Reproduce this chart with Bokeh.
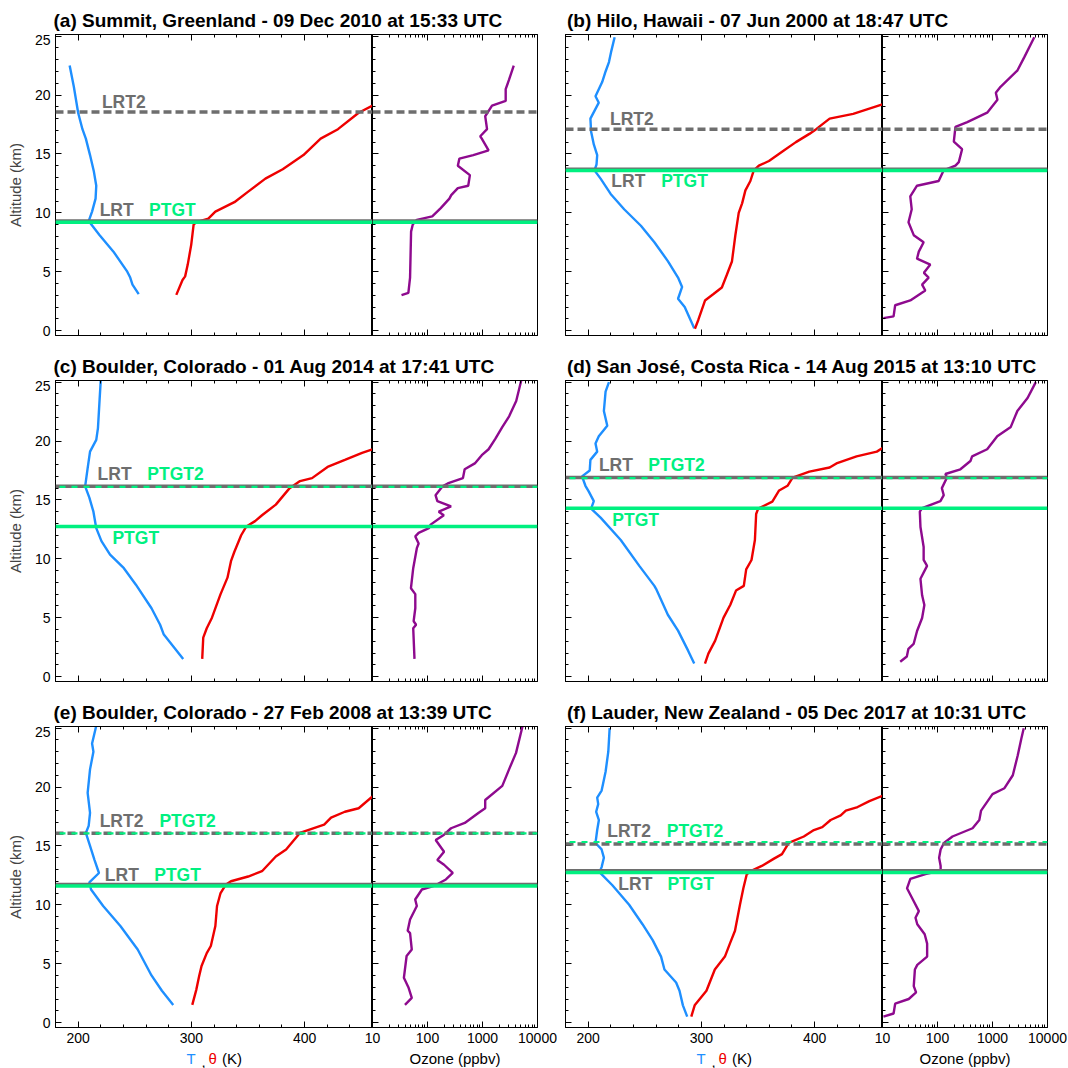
from bokeh.embed import file_html
from bokeh.layouts import column, row
from bokeh.models import FixedTicker, Label, LinearAxis, LogAxis, PrintfTickFormatter, Range1d, Span
from bokeh.plotting import figure
from bokeh.resources import INLINE

FONT = "Liberation Sans"
BLUE = "#1E8FFF"
RED = "#EE0000"
PURPLE = "#8E0A8E"
GRAY = "#6E6E6E"
GREEN = "#00F080"

TITLES = [
    "(a) Summit, Greenland - 09 Dec 2010 at 15:33 UTC",
    "(b) Hilo, Hawaii - 07 Jun 2000 at 18:47 UTC",
    "(c) Boulder, Colorado - 01 Aug 2014 at 17:41 UTC",
    "(d) San José, Costa Rica - 14 Aug 2015 at 13:10 UTC",
    "(e) Boulder, Colorado - 27 Feb 2008 at 13:39 UTC",
    "(f) Lauder, New Zealand - 05 Dec 2017 at 10:31 UTC",
]

# tropopause heights (km), None = not present
LRT = [9.3, 13.7, 16.15, 16.9, 11.72, 12.9]
LRT2 = [18.55, 17.1, None, None, 16.07, 15.16]
PTGT = [9.2, 13.6, 12.75, 14.3, 11.6, 12.74]
PTGT2 = [None, None, 16.1, 16.85, 16.07, 15.33]

# (a) Summit
t_alt_a = [3.1, 3.9, 4.5, 5.0, 6.7, 8.1, 9.3, 10.1, 11.2, 12.3, 13.5, 14.9, 16.3, 17.1, 18.5, 20.7, 22.5]
t_a = [253.5, 248, 246, 243.4, 231.2, 219, 209.3, 212.3, 215.4, 216, 213.9, 210.5, 206.8, 203.8, 200, 196.2, 192.5]
th_alt_a = [3.03, 4.3, 4.6, 5.6, 7.3, 9.0, 9.2, 9.5, 10.1, 10.9, 11.8, 12.9, 13.7, 14.9, 16.3, 17.1, 18.5, 19.1]
th_a = [286.7, 292.2, 294.5, 296.8, 299.9, 302, 304.4, 315, 321.2, 338, 350.2, 365.4, 380.7, 399, 414.2, 429.5, 447.8, 460]
o3_alt_a = [3.0, 3.2, 4.5, 8.4, 9.0, 9.4, 9.7, 10.4, 11.2, 11.5, 12.1, 12.3, 13.2, 14.0, 14.6, 14.9, 15.3,
            16.3, 16.5, 17.1, 18.2, 19.1, 19.5, 20.5, 21.3, 22.5]
o3_a = [33.7, 44.9, 48.2, 50.3, 54, 64, 122, 174, 250, 270, 356, 550, 590, 356, 380, 680, 1290,
        970, 910, 1210, 1120, 1490, 2640, 2640, 3040, 3700]

# (b) Hilo
t_alt_b = [0.2, 2.0, 2.7, 3.7, 4.5, 5.9, 7.5, 8.9, 10.3, 11.6, 12.9, 13.6, 14.1, 14.9, 15.8, 16.9, 18.0,
           19.35, 19.9, 21.1, 22.0, 22.8, 23.75, 24.9]
t_b = [293.7, 285.3, 279.4, 283, 279.4, 270.4, 258.5, 246.6, 231.8, 219.9, 211, 205.6, 207.4, 208, 205, 202.6, 202,
       209.4, 206.5, 212.4, 215.4, 218.4, 220.5, 223.4]
th_alt_b = [0.15, 0.9, 2.55, 3.1, 3.66, 4.76, 5.86, 6.96, 8.07, 9.99, 10.8, 11.9, 12.7, 13.6, 14.0, 14.4, 15.2,
            16.0, 16.7, 17.1, 18.0, 18.4, 19.2]
th_b = [294.3, 297.3, 303.2, 310.7, 318.1, 322.6, 327, 328.5, 330, 333, 336, 338.9, 343.3, 346.3, 350.8, 359.7,
        371.6, 383.5, 395.4, 401.4, 413.3, 434.1, 460]
o3_alt_b = [1.05, 1.2, 2.15, 2.56, 3.4, 3.9, 4.5, 4.9, 5.6, 6.1, 6.7, 7.5, 8.1, 9.2, 10.3, 11.4, 12.3, 12.7, 13.6,
            14.0, 14.3, 15.4, 16.05, 17.3, 17.7, 18.5, 19.6, 20.2, 20.7, 22.1, 23.2, 24.9]
o3_b = [10.4, 15.9, 17, 32, 60, 52.5, 69, 56.6, 74, 42.4, 45.7, 56, 37, 29.7, 34, 32, 42.4, 105, 129,
        212, 244, 280, 198, 212, 348, 800, 1230, 1150, 1400, 2850, 3770, 5750]

# (c) Boulder 2014
t_alt_c = [1.5, 3.6, 4.4, 5.8, 7.8, 9.2, 10.35, 11.5, 12.6, 14.0, 15.2, 16.15, 17.7, 19.1, 20.1, 21.1, 23.6, 25.2]
t_c = [292.8, 275.5, 272.4, 264.8, 251, 240.4, 228.2, 220.6, 216, 213.5, 209.9, 206.2, 208.4, 210.5, 216, 217.5,
       219, 220]
th_alt_c = [1.5, 3.3, 4.1, 5.0, 7.0, 8.4, 9.8, 10.6, 12.0, 12.75, 13.2, 13.7, 14.6, 16.0, 16.6, 16.85, 17.8, 18.4,
            19.0, 19.3]
th_c = [309.6, 310.5, 313.6, 318.2, 325.8, 331.9, 335, 338, 344, 348.6, 356.3, 362.4, 374.6, 386.8, 396, 406.6,
        420.3, 435.6, 450.8, 460]
o3_alt_c = [1.5, 4.1, 4.4, 4.7, 5.8, 7.0, 7.5, 9.2, 10.9, 11.3, 11.9, 12.2, 12.6, 12.9, 13.7, 14.0, 14.45, 14.9,
            15.4, 16.15, 16.4, 16.85, 17.6, 18.1, 18.8, 19.3, 20.2, 21.2, 22.1, 23.4, 25.2]
o3_c = [58, 55, 62, 56, 60, 60, 50, 55, 64, 69, 60, 69, 106, 114, 198, 160, 268, 151,
        140, 188, 233, 441, 474, 725, 970, 1290, 1720, 2300, 3050, 4100, 5100]

# (d) San Jose
t_alt_d = [1.1, 2.2, 3.9, 5.25, 7.45, 7.7, 9.4, 11.6, 13.5, 14.26, 14.9, 15.7, 16.2, 17.0, 17.5, 18.4, 19.1, 19.8,
           20.4, 21.3, 22.55, 24.2, 25.0]
t_d = [293.7, 288.3, 279.4, 270.4, 260, 258.5, 245.2, 228.8, 211, 202.6, 205, 200.6, 197.6, 194.6, 201.4, 202, 208,
       206.5, 209.4, 216.9, 213.9, 215.4, 218.4]
th_alt_d = [1.1, 1.95, 3.05, 5.0, 6.1, 7.3, 7.7, 9.1, 9.9, 11.6, 13.8, 14.26, 14.86, 15.8, 16.2, 16.9, 17.4, 17.75,
            18.1, 18.7, 19.1, 19.4]
th_d = [303.2, 306.2, 312.2, 319.6, 325.6, 330.6, 337.5, 339.6, 344.3, 347.3, 348.4, 350.2, 362.7, 368.7, 376.1,
        380.6, 395.4, 413.3, 419.3, 437.1, 455, 460]
o3_alt_d = [1.26, 1.7, 2.36, 2.77, 3.87, 4.97, 6.07, 6.9, 8.3, 9.4, 9.9, 11.0, 12.7, 14.0, 14.3, 14.9, 15.4, 16.0,
            16.9, 17.2, 17.6, 18.3, 18.7, 19.3, 20.4, 21.2, 22.55, 23.65, 25.0]
o3_d = [21, 27.7, 29.6, 36.8, 42.5, 52.5, 57.7, 52.5, 49, 64.6, 56, 56, 49, 47.7, 52.5, 113, 130, 120,
        149, 139, 261, 397, 426, 800, 1220, 2150, 2830, 4340, 6130]

# (e) Boulder 2008
t_alt_e = [1.5, 2.7, 4.0, 6.2, 8.2, 9.9, 11.3, 11.9, 12.7, 13.8, 15.0, 16.1, 16.7, 17.8, 19.5, 21.5, 23.0, 23.7, 25.2]
t_e = [284, 274, 264.8, 252.6, 237.3, 222.1, 211.4, 209.9, 218.4, 214.5, 210.5, 206.8, 209.3, 210.5, 208.4, 210.5,
       213.5, 212.3, 216]
th_alt_e = [1.5, 2.8, 3.95, 4.8, 5.9, 6.5, 8.2, 9.9, 11.0, 11.7, 12.0, 12.4, 12.85, 14.1, 14.7, 16.1, 16.8, 17.4,
            17.9, 18.2, 19.2]
th_e = [300.8, 304.4, 306.9, 309, 313.6, 317.2, 321.2, 322.7, 325.8, 330.3, 335, 350.2, 362.4, 374.6, 383.7, 395.9,
        417.3, 423.4, 435.6, 447.8, 460]
o3_alt_e = [1.5, 2.1, 3.0, 3.8, 5.65, 6.2, 7.6, 7.8, 8.75, 9.9, 10.45, 11.3, 11.6, 12.15, 12.7, 13.4, 13.8, 14.5,
            15.5, 15.95, 16.5, 16.95, 17.8, 18.2, 18.9, 20.1, 21.5, 22.9, 25.2]
o3_e = [38.9, 51.8, 44.9, 37.2, 41.7, 51.8, 48.2, 43.6, 48.2, 64, 59.7, 79, 131, 216, 288, 200, 151, 200,
        141, 200, 268, 476, 841, 1120, 1120, 2290, 3040, 4070, 5370]

# (f) Lauder
t_alt_f = [0.5, 1.46, 2.7, 3.4, 4.5, 5.6, 7.0, 8.35, 10.0, 11.66, 12.77, 13.2, 14.0, 14.7, 15.25, 16.35, 17.2, 17.9,
           18.55, 19.1, 19.7, 20.2, 21.3, 23.0, 25.0]
t_f = [287.5, 283.7, 280.7, 277.7, 267.4, 264.4, 257, 248, 236.2, 221.4, 210, 211.9, 213.9, 211.9, 206.5, 208, 209.5,
       207.1, 208.9, 208, 211.9, 213, 215.4, 217.8, 219]
th_alt_f = [0.5, 1.46, 2.7, 4.5, 5.6, 6.7, 7.8, 10.0, 11.4, 12.6, 12.9, 13.3, 13.9, 14.3, 15.25, 15.8, 16.35, 16.6,
            17.2, 17.6, 18.0, 18.3, 18.8, 19.25]
th_f = [291.1, 294.1, 304.5, 311.9, 320.8, 325.2, 329.7, 334.1, 337.1, 340.1, 344.5, 353.4, 363.8, 371.2, 377.2,
        390.5, 399.4, 406.8, 414.2, 423.1, 427.6, 438, 448.4, 460]
o3_alt_f = [0.5, 0.77, 1.6, 2.0, 2.56, 3.1, 4.5, 4.9, 5.6, 6.7, 7.5, 8.35, 8.9, 9.46, 10.3, 11.4, 12.2, 12.6, 12.9,
            13.3, 14.0, 14.7, 15.25, 15.8, 16.5, 17.2, 18.0, 19.4, 19.9, 21.0, 22.7, 24.1, 25.0]
o3_f = [10.4, 15.9, 17, 30, 40.8, 37, 38.8, 42.9, 64.8, 64.8, 58.5, 42.9, 39.8, 45.8, 37, 27.9, 32.1, 60.4, 114,
        114, 107, 114, 131, 187, 434, 576, 620, 1000, 1650, 2340, 2880, 3340, 3700]

T_PROFILES = [(t_a, t_alt_a), (t_b, t_alt_b), (t_c, t_alt_c), (t_d, t_alt_d), (t_e, t_alt_e), (t_f, t_alt_f)]
TH_PROFILES = [(th_a, th_alt_a), (th_b, th_alt_b), (th_c, th_alt_c), (th_d, th_alt_d), (th_e, th_alt_e), (th_f, th_alt_f)]
O3_PROFILES = [(o3_a, o3_alt_a), (o3_b, o3_alt_b), (o3_c, o3_alt_c), (o3_d, o3_alt_d), (o3_e, o3_alt_e), (o3_f, o3_alt_f)]

# annotation text placement: (text, colour, K, km of text baseline)
LABELS = [
    [("LRT2", GRAY, 221, 18.9), ("LRT", GRAY, 219, 9.67), ("PTGT", GREEN, 262.6, 9.67)],
    [("LRT2", GRAY, 219.3, 17.4), ("LRT", GRAY, 220.5, 12.2), ("PTGT", GREEN, 264.5, 12.2)],
    [("LRT", GRAY, 217.2, 16.65), ("PTGT2", GREEN, 261.1, 16.65), ("PTGT", GREEN, 230.3, 11.25)],
    [("LRT", GRAY, 209.5, 17.4), ("PTGT2", GREEN, 253.2, 17.4), ("PTGT", GREEN, 221.4, 12.8)],
    [("LRT2", GRAY, 219, 16.6), ("PTGT2", GREEN, 271.8, 16.6), ("LRT", GRAY, 223.6, 12.0), ("PTGT", GREEN, 267.2, 12.0)],
    [("LRT2", GRAY, 216.9, 15.7), ("PTGT2", GREEN, 269.4, 15.7), ("LRT", GRAY, 226.7, 11.2), ("PTGT", GREEN, 270, 11.2)],
]
# pieces of the coloured temperature axis title: (text, colour, px from frame left)
T_TITLE = [("T", BLUE, 131), (",", "black", 146), ("θ", RED, 153), ("(K)", "black", 166.5)]

Y_RANGE = (-0.42, 25.14)
FRAME_H = 301
T_W, O_W = 317, 165
KM_PX = FRAME_H / (Y_RANGE[1] - Y_RANGE[0])
LBL_PX = 17.5
DESC = 0.212  # font descent as fraction of size


def style_axis(ax, labels):
    ax.axis_line_color = "black"
    ax.major_tick_in = 6
    ax.major_tick_out = 0
    ax.minor_tick_in = 3
    ax.minor_tick_out = 0
    ax.major_label_text_font = FONT
    if labels:
        ax.major_label_text_color = "black"
        ax.major_label_text_font_size = "14px"
        ax.major_label_standoff = 5
    else:
        ax.major_label_text_color = None
        ax.major_label_text_font_size = "0px"
        ax.major_label_standoff = 0


def add_lines(p, i):
    if LRT2[i] is not None:
        p.add_layout(Span(location=LRT2[i], dimension="width", line_color=GRAY, line_width=3.5, line_dash="8 4"))
    if LRT[i] is not None:
        p.add_layout(Span(location=LRT[i], dimension="width", line_color=GRAY, line_width=3.5))
    if PTGT2[i] is not None:
        p.add_layout(Span(location=PTGT2[i], dimension="width", line_color=GREEN, line_width=2.2,
                          line_dash="6 6", line_dash_offset=8))
    if PTGT[i] is not None:
        p.add_layout(Span(location=PTGT[i], dimension="width", line_color=GREEN, line_width=3.5))


def strip(width, height):
    s = figure(width=width, height=height, x_axis_location=None, y_axis_location=None, toolbar_location=None,
               output_backend="svg", min_border=0, outline_line_color=None)
    s.grid.visible = False
    return s


def make_panel(i):
    col = i % 2
    bottom = i >= 4
    bb = 22 if bottom else 19
    lb = 55 if col == 0 else 8
    rb = 20 if col == 0 else 21
    width = lb + T_W + O_W + rb

    # temperature / potential temperature
    p = figure(frame_width=T_W, frame_height=FRAME_H, x_range=Range1d(180, 460), y_range=Range1d(*Y_RANGE),
               x_axis_location=None, y_axis_location=None, toolbar_location=None, output_backend="svg",
               min_border_left=lb, min_border_right=0, min_border_top=0,
               min_border_bottom=bb, outline_line_color="black")
    p.grid.visible = False
    t_ticker = FixedTicker(ticks=[200, 300, 400], minor_ticks=list(range(180, 461, 20)))
    for place in ("below", "above"):
        ax = LinearAxis(ticker=t_ticker)
        style_axis(ax, place == "below" and bottom)
        p.add_layout(ax, place)
    yax = LinearAxis(ticker=FixedTicker(ticks=[0, 5, 10, 15, 20, 25], minor_ticks=list(range(0, 26))))
    style_axis(yax, col == 0)
    if col == 0:
        yax.axis_label = "Altitude (km)"
        yax.axis_label_text_font = FONT
        yax.axis_label_text_font_size = "15px"
        yax.axis_label_text_font_style = "normal"
        yax.axis_label_standoff = 8
    p.add_layout(yax, "left")

    add_lines(p, i)
    tx, ty = T_PROFILES[i]
    hx, hy = TH_PROFILES[i]
    p.line(tx, ty, line_color=BLUE, line_width=2.4)
    p.line(hx, hy, line_color=RED, line_width=2.4)
    for text, color, x, y in LABELS[i]:
        p.add_layout(Label(x=x, y=y - DESC * LBL_PX / KM_PX, text=text, text_color=color, text_font=FONT,
                           text_font_style="bold", text_font_size=f"{LBL_PX}px", text_baseline="bottom"))

    # ozone
    o = figure(frame_width=O_W, frame_height=FRAME_H, x_axis_type="log", x_range=Range1d(10, 10000),
               y_range=Range1d(*Y_RANGE), x_axis_location=None, y_axis_location=None, toolbar_location=None,
               output_backend="svg", min_border_left=12, min_border_right=rb, min_border_top=0,
               min_border_bottom=bb, outline_line_color="black", border_fill_color=None,
               margin=(0, 0, 0, -12))
    o.grid.visible = False
    o_minor = [m * 10 ** e for e in range(1, 4) for m in range(2, 10)]
    o_ticker = FixedTicker(ticks=[10, 100, 1000, 10000], minor_ticks=o_minor)
    for place in ("below", "above"):
        ax = LogAxis(ticker=o_ticker, formatter=PrintfTickFormatter(format="%d"))
        style_axis(ax, place == "below" and bottom)
        o.add_layout(ax, place)
    oy = LinearAxis(ticker=FixedTicker(ticks=[0, 5, 10, 15, 20, 25], minor_ticks=list(range(0, 26))))
    style_axis(oy, False)
    o.add_layout(oy, "left")

    add_lines(o, i)
    ox, oyv = O3_PROFILES[i]
    o.line(ox, oyv, line_color=PURPLE, line_width=2.4)

    # panel title strip
    th = 34 if i < 2 else 26
    tf = strip(width, th)
    tf.add_layout(Label(x=53 if col == 0 else 9.5, y=3.7, x_units="screen", y_units="screen",
                        text=TITLES[i], text_font=FONT, text_font_style="bold", text_font_size="19px",
                        text_color="black", text_baseline="bottom"))
    parts = [tf, row(p, o)]

    if bottom:
        # axis titles strip below the bottom row
        xf = strip(width, 19)
        for text, color, x in T_TITLE:
            xf.add_layout(Label(x=lb + x, y=1.5, x_units="screen", y_units="screen", text=text, text_color=color,
                                text_font=FONT, text_font_size="15px", text_baseline="bottom"))
        xf.add_layout(Label(x=lb + T_W + O_W / 2, y=1.5, x_units="screen", y_units="screen", text="Ozone (ppbv)",
                            text_color="black", text_font=FONT, text_font_size="15px",
                            text_align="center", text_baseline="bottom"))
        parts.append(xf)
    return column(*parts)


layout = column(*[row(make_panel(2 * r), make_panel(2 * r + 1)) for r in range(3)])

open("out.html", "w").write(file_html(layout, INLINE))
